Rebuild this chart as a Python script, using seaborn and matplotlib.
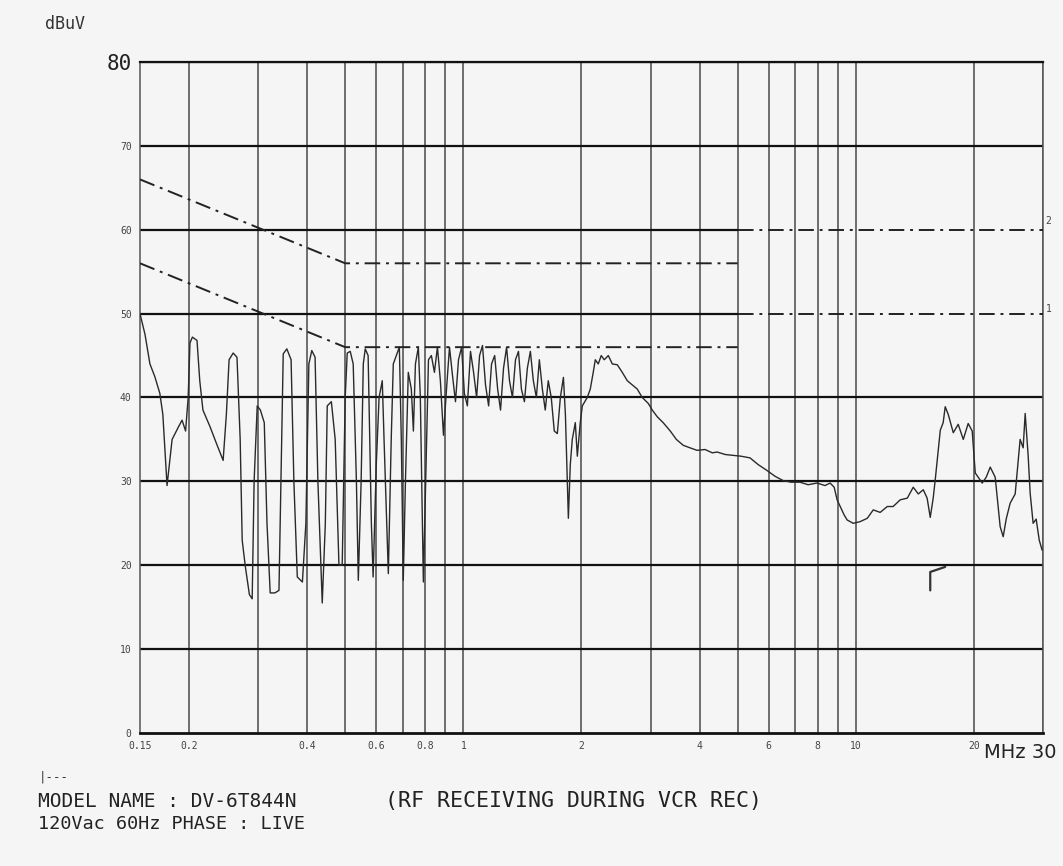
import matplotlib
matplotlib.use("Agg")
import matplotlib.pyplot as plt
import seaborn as sns
import pandas as pd
import numpy as np

# ---------------- data ----------------
freq_mhz = [
    0.150, 0.1545, 0.159, 0.1636, 0.1685, 0.1715, 0.1758, 0.1811, 0.188, 0.192,
    0.196, 0.199, 0.2011, 0.204, 0.2096, 0.213, 0.217, 0.2263, 0.235, 0.2443,
    0.249, 0.253, 0.2591, 0.265, 0.270, 0.2732, 0.278, 0.285, 0.2897, 0.293,
    0.2984, 0.304, 0.311, 0.316, 0.322, 0.331, 0.339, 0.343, 0.3476, 0.355,
    0.364, 0.370, 0.3775, 0.389, 0.397, 0.404, 0.411, 0.419, 0.426, 0.437,
    0.445, 0.450, 0.461, 0.4715, 0.482, 0.4913, 0.500, 0.506, 0.515, 0.524,
    0.534, 0.540, 0.549, 0.556, 0.5624, 0.572, 0.583, 0.589, 0.600, 0.610,
    0.6215, 0.628, 0.644, 0.655, 0.663, 0.675, 0.687, 0.695, 0.703, 0.712,
    0.724, 0.737, 0.746, 0.755, 0.768, 0.777, 0.791, 0.800, 0.815, 0.829,
    0.844, 0.859, 0.874, 0.890, 0.906, 0.922, 0.939, 0.955, 0.972, 0.990,
    1.006, 1.024, 1.043, 1.062, 1.081, 1.100, 1.119, 1.139, 1.160, 1.180,
    1.202, 1.223, 1.244, 1.266, 1.289, 1.311, 1.334, 1.358, 1.382, 1.406,
    1.431, 1.456, 1.482, 1.508, 1.535, 1.562, 1.590, 1.617, 1.646, 1.675,
    1.705, 1.736, 1.767, 1.799, 1.820, 1.852, 1.873, 1.895, 1.929, 1.952,
    1.986, 2.010, 2.069, 2.106, 2.143, 2.169, 2.207, 2.246, 2.286, 2.341,
    2.397, 2.468, 2.541, 2.617, 2.694, 2.775, 2.857, 2.959, 3.030, 3.120,
    3.230, 3.368, 3.490, 3.634, 3.780, 3.942, 4.130, 4.310, 4.433, 4.650,
    4.867, 5.100, 5.376, 5.640, 5.939, 6.230, 6.525, 6.840, 7.211, 7.560,
    7.969, 8.350, 8.601, 8.810, 8.963, 9.130, 9.340, 9.505, 9.850, 10.26,
    10.70, 11.08, 11.54, 12.03, 12.45, 12.98, 13.53, 14.01, 14.43, 14.86,
    15.20, 15.48, 15.75, 15.94, 16.42, 16.70, 16.90, 17.20, 17.72, 18.24,
    18.79, 19.34, 19.80, 20.16, 20.50, 21.00, 21.50, 22.01, 22.66, 23.06,
    23.33, 23.75, 24.17, 24.74, 25.48, 26.23, 26.70, 27.02, 27.50, 27.82,
    28.31, 28.82, 29.34, 29.84,
]
level_dbuv = [
    50.0, 47.5, 44.0, 42.5, 40.5, 38.0, 29.5, 35.0, 36.5, 37.3,
    36.0, 40.0, 46.5, 47.2, 46.8, 42.0, 38.5, 36.5, 34.5, 32.5,
    38.0, 44.5, 45.3, 44.8, 35.0, 23.0, 20.0, 16.5, 16.0, 30.0,
    39.0, 38.5, 37.0, 25.0, 16.7, 16.7, 17.0, 30.0, 45.2, 45.8,
    44.5, 30.0, 18.6, 18.0, 25.0, 44.0, 45.6, 44.8, 30.0, 15.5,
    25.0, 39.0, 39.5, 35.0, 20.0, 20.0, 40.0, 45.3, 45.5, 44.0,
    30.0, 18.2, 30.0, 44.0, 45.8, 45.0, 25.0, 18.6, 32.0, 40.0,
    42.0, 35.0, 19.0, 35.0, 44.0, 45.0, 46.0, 35.0, 18.2, 30.0,
    43.0, 41.0, 36.0, 44.0, 46.0, 40.0, 18.0, 28.0, 44.5, 45.0,
    43.0, 46.0, 42.0, 35.5, 41.0, 46.0, 42.5, 39.5, 44.5, 46.0,
    40.5, 39.0, 45.5, 43.0, 40.0, 45.0, 46.2, 41.5, 39.0, 44.0,
    45.0, 41.0, 38.5, 43.5, 46.0, 42.0, 40.0, 44.5, 45.5, 41.0,
    39.5, 43.5, 45.5, 42.0, 40.0, 44.5, 41.0, 38.5, 42.0, 40.0,
    36.0, 35.7, 40.0, 42.4, 38.0, 25.6, 32.0, 35.0, 37.0, 33.0,
    37.0, 39.0, 40.0, 41.0, 43.0, 44.5, 44.0, 45.0, 44.5, 45.0,
    44.0, 43.9, 43.0, 42.0, 41.5, 41.0, 40.0, 39.3, 38.5, 37.7,
    37.0, 36.0, 35.0, 34.3, 34.0, 33.7, 33.8, 33.4, 33.5, 33.2,
    33.1, 33.0, 32.8, 32.0, 31.3, 30.6, 30.1, 29.9, 29.9, 29.6,
    29.8, 29.5, 29.8, 29.3, 27.8, 27.0, 26.0, 25.4, 25.0, 25.2,
    25.6, 26.6, 26.3, 27.0, 27.0, 27.8, 28.0, 29.3, 28.5, 29.0,
    28.0, 25.7, 28.0, 30.2, 36.1, 37.0, 38.9, 38.0, 35.8, 36.8,
    35.0, 36.9, 36.0, 31.0, 30.5, 29.8, 30.5, 31.7, 30.5, 27.0,
    24.6, 23.4, 25.5, 27.4, 28.5, 35.0, 34.0, 38.1, 33.0, 28.6,
    25.0, 25.5, 23.0, 21.8,
]

# limit lines (quasi-peak "2" and average "1")
qp_freq_a = [0.15, 0.5, 5.0]
qp_level_a = [66, 56, 56]
qp_freq_b = [5.0, 30.0]
qp_level_b = [60, 60]
av_freq_a = [0.15, 0.5, 5.0]
av_level_a = [56, 46, 46]
av_freq_b = [5.0, 30.0]
av_level_b = [50, 50]

# pen mark on the printout
mark_freq = [15.48, 15.48, 16.90]
mark_level = [17.0, 19.2, 19.8]

grid_freqs = [0.2, 0.3, 0.4, 0.5, 0.6, 0.7, 0.8, 0.9, 1, 2, 3, 4, 5, 6, 7, 8, 9, 10, 20, 30]
grid_levels_full = [10, 20, 30, 40, 70, 80]
grid_levels_part = [50, 60]
xtick_vals = [0.15, 0.2, 0.4, 0.6, 0.8, 1, 2, 4, 6, 8, 10, 20]
xtick_labels = ["0.15", "0.2", "0.4", "0.6", "0.8", "1", "2", "4", "6", "8", "10", "20"]
ytick_vals = [0, 10, 20, 30, 40, 50, 60, 70, 80]
ytick_labels = ["0", "10", "20", "30", "40", "50", "60", "70", "80"]

# ---------------- plot ----------------
sns.set_theme(style="white")
plt.rcParams["font.family"] = ["DejaVu Sans Mono", "DejaVu Sans"]

bg = "#f5f5f5"
fig = plt.figure(figsize=(10.63, 8.66), dpi=100, facecolor=bg)
ax = fig.add_axes([0.1317, 0.1536, 0.8495, 0.7748])
ax.set_facecolor(bg)

ax.set_xscale("log")
ax.set_xlim(0.15, 30)
ax.set_ylim(0, 80)

for f in grid_freqs:
    ax.axvline(f, color="#4a4a4a", lw=1.1, zorder=1)
ax.hlines(grid_levels_full, 0.15, 30, color="#111111", lw=1.6, zorder=1)
ax.hlines(grid_levels_part, 0.15, 5.0, color="#111111", lw=1.6, zorder=1)

trace = pd.DataFrame({"freq": freq_mhz, "level": level_dbuv})
sns.lineplot(data=trace, x="freq", y="level", sort=False, estimator=None,
             color="#2a2a2a", lw=1.0, ax=ax, zorder=3)

for fx, ly in [(qp_freq_a, qp_level_a), (qp_freq_b, qp_level_b),
               (av_freq_a, av_level_a), (av_freq_b, av_level_b)]:
    sns.lineplot(x=fx, y=ly, sort=False, estimator=None, color="#222222",
                 lw=1.4, linestyle=(0, (8, 3, 1.5, 3)), ax=ax, zorder=4)

sns.lineplot(x=mark_freq, y=mark_level, sort=False, estimator=None,
             color="#333333", lw=1.6, ax=ax, zorder=4)

for s in ["left", "right"]:
    ax.spines[s].set_color("#555555")
    ax.spines[s].set_linewidth(1.1)
ax.spines["top"].set_color("#111111")
ax.spines["top"].set_linewidth(1.6)
ax.spines["bottom"].set_color("#111111")
ax.spines["bottom"].set_linewidth(2.0)

ax.set_xticks(xtick_vals)
ax.set_xticklabels(xtick_labels, fontsize=7, color="#444444")
ax.xaxis.set_minor_locator(matplotlib.ticker.NullLocator())
ax.set_yticks(ytick_vals)
ax.set_yticklabels(ytick_labels, fontsize=7, color="#444444")
ax.tick_params(axis="both", length=0, pad=6)
ax.get_yticklabels()[-1].set_fontsize(15)
ax.get_yticklabels()[-1].set_color("#222222")
ax.set_xlabel("")
ax.set_ylabel("")

ax.text(31.0, 61, "2", fontsize=7, color="#444444", ha="center", va="center", clip_on=False)
ax.text(31.0, 50.5, "1", fontsize=7, color="#444444", ha="center", va="center", clip_on=False)

fig.text(0.994, 0.131, "MHz 30", fontsize=14, color="#222222", ha="right", va="center",
         family=["DejaVu Sans"])
fig.text(0.042, 0.972, "dBuV", fontsize=12, color="#333333", ha="left", va="center")
fig.text(0.036, 0.103, "|---", fontsize=9, color="#333333", ha="left", va="center")
fig.text(0.036, 0.075, "MODEL NAME : DV-6T844N", fontsize=14, color="#222222",
         ha="left", va="center")
fig.text(0.362, 0.075, "(RF RECEIVING DURING VCR REC)", fontsize=15.5, color="#222222",
         ha="left", va="center")
fig.text(0.036, 0.049, "120Vac 60Hz PHASE : LIVE", fontsize=13.3, color="#222222",
         ha="left", va="center")

fig.savefig("out.png", dpi=100, facecolor=bg)
